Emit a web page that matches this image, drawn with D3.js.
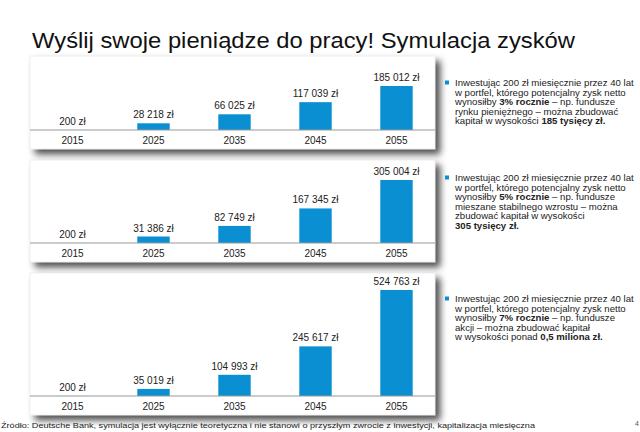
<!DOCTYPE html>
<html>
<head>
<meta charset="utf-8">
<script src="https://cdn.jsdelivr.net/npm/d3@7"></script>
<style>
  body { margin: 0; background: #fff; }
  svg { display: block; font-family: "Liberation Sans", Arial, sans-serif; }
</style>
</head>
<body>
<div id="graf"></div>
<script>
// dane
const lata = [2015, 2025, 2035, 2045, 2055]
const wartosci3 = [200, 28218, 66025, 117039, 185012]
const wartosci5 = [200, 31386, 82749, 167345, 305004]
const wartosci7 = [200, 35019, 104993, 245617, 524763]

const opis3 = [
  [["Inwestując 200 zł miesięcznie przez 40 lat", false]],
  [["w portfel, którego potencjalny zysk netto", false]],
  [["wynosiłby ", false], ["3% rocznie", true], [" – np. fundusze", false]],
  [["rynku pieniężnego – można zbudować", false]],
  [["kapitał w wysokości ", false], ["185 tysięcy zł.", true]],
]
const opis5 = [
  [["Inwestując 200 zł miesięcznie przez 40 lat", false]],
  [["w portfel, którego potencjalny zysk netto", false]],
  [["wynosiłby ", false], ["5% rocznie", true], [" – np. fundusze", false]],
  [["mieszane stabilnego wzrostu – można", false]],
  [["zbudować kapitał w wysokości", false]],
  [["305 tysięcy zł.", true]],
]
const opis7 = [
  [["Inwestując 200 zł miesięcznie przez 40 lat", false]],
  [["w portfel, którego potencjalny zysk netto", false]],
  [["wynosiłby ", false], ["7% rocznie", true], [" – np. fundusze", false]],
  [["akcji – można zbudować kapitał", false]],
  [["w wysokości ponad ", false], ["0,5 miliona zł.", true]],
]

const tytul = "Wyślij swoje pieniądze do pracy! Symulacja zysków"
const zrodlo = "Źródło: Deutsche Bank, symulacja jest wyłącznie teoretyczna i nie stanowi o przyszłym zwrocie z inwestycji, kapitalizacja miesięczna"

const W = 640, H = 432
const niebieski = "#0a8fd2"

const pl = d3.formatLocale({ decimal: ",", thousands: " ", grouping: [3], currency: ["", " zł"] })
const fmt = pl.format("$,d")

const svg = d3.select("#graf").append("svg").attr("width", W).attr("height", H)

const defs = svg.append("defs")
const f = defs.append("filter").attr("id", "cien")
  .attr("x", "-5%").attr("y", "-10%").attr("width", "115%").attr("height", "135%")
f.append("feDropShadow").attr("dx", 5).attr("dy", 5).attr("stdDeviation", 3.5)
  .attr("flood-color", "#000").attr("flood-opacity", 0.7)

svg.append("text")
  .attr("x", 32).attr("y", 48)
  .attr("font-size", 22).attr("fill", "#111")
  .attr("textLength", 543).attr("lengthAdjust", "spacingAndGlyphs")
  .text(tytul)

const panele = [
  { dane: wartosci3, opis: opis3, top: 56, bottom: 149, base: 130, maxH: 44, tekstY: 86 },
  { dane: wartosci5, opis: opis5, top: 160, bottom: 262, base: 243, maxH: 63, tekstY: 181 },
  { dane: wartosci7, opis: opis7, top: 273, bottom: 415, base: 396, maxH: 106, tekstY: 302 },
]

const x = d3.scaleBand().domain(lata).range([32, 437]).paddingInner(0.6).paddingOuter(0.3)

panele.forEach((p) => {
  const g = svg.append("g")

  g.append("rect")
    .attr("x", 30).attr("y", p.top)
    .attr("width", 405).attr("height", p.bottom - p.top)
    .attr("fill", "#fff").attr("stroke", "#ddd").attr("stroke-width", 0.5)
    .attr("filter", "url(#cien)")

  const y = d3.scaleLinear().domain([0, d3.max(p.dane)]).range([p.base, p.base - p.maxH])
  const wiersze = lata.map((rok, i) => ({ rok, v: p.dane[i] }))

  g.selectAll(".bar").data(wiersze).enter().append("rect")
    .attr("x", (d) => x(d.rok))
    .attr("y", (d) => y(d.v))
    .attr("width", x.bandwidth())
    .attr("height", (d) => p.base - y(d.v))
    .attr("fill", niebieski)

  g.selectAll(".lab").data(wiersze).enter().append("text")
    .attr("x", (d) => x(d.rok) + x.bandwidth() / 2)
    .attr("y", (d) => y(d.v) - 5)
    .attr("text-anchor", "middle")
    .attr("font-size", 10).attr("fill", "#222")
    .text((d) => fmt(d.v))

  g.append("line")
    .attr("x1", 30).attr("x2", 435).attr("y1", p.base).attr("y2", p.base)
    .attr("stroke", "#999").attr("stroke-width", 1)

  const os = g.append("g")
    .attr("transform", `translate(0,${p.base})`)
    .call(d3.axisBottom(x).tickSize(0).tickPadding(7))
  os.select(".domain").remove()
  os.selectAll("text").attr("font-size", 10).attr("fill", "#222")
    .attr("font-family", "Liberation Sans, Arial, sans-serif")

  // opis po prawej
  g.append("rect")
    .attr("x", 445).attr("y", p.tekstY - 5.5)
    .attr("width", 4).attr("height", 4)
    .attr("fill", niebieski)

  p.opis.forEach((linia, i) => {
    const t = g.append("text")
      .attr("x", 455).attr("y", p.tekstY + i * 9.5)
      .attr("font-size", 9.6).attr("fill", "#222")
    linia.forEach(([s, b]) => {
      t.append("tspan").attr("font-weight", b ? "bold" : "normal").text(s)
    })
  })
})

svg.append("text")
  .attr("x", 1).attr("y", 428)
  .attr("font-size", 7).attr("fill", "#222")
  .attr("textLength", 534).attr("lengthAdjust", "spacingAndGlyphs")
  .text(zrodlo)

svg.append("text")
  .attr("x", 635).attr("y", 426)
  .attr("font-size", 7).attr("fill", "#555")
  .text("4")
</script>
</body>
</html>
